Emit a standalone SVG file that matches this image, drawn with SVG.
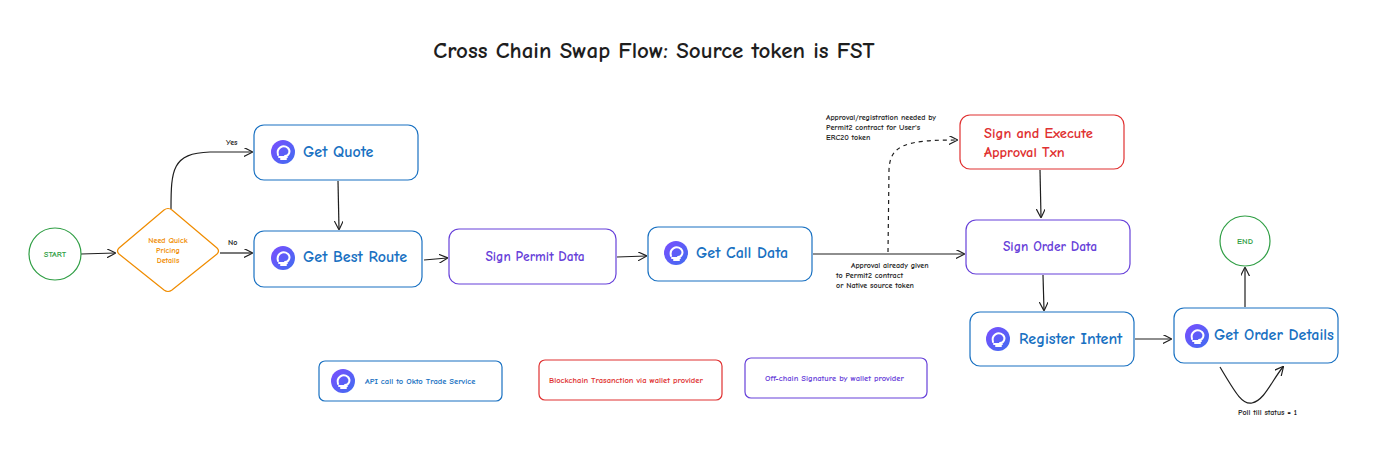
<svg xmlns="http://www.w3.org/2000/svg" width="1374" height="449" viewBox="0 0 1374 449">
<style>
text{font-family:"Comic Neue","Liberation Sans",sans-serif;font-weight:bold}
.b{fill:#fff;stroke:#1971c2;stroke-width:1.2}
.r{fill:#fff;stroke:#e03131;stroke-width:1.2}
.v{fill:#fff;stroke:#6741d9;stroke-width:1.2}
.tb{fill:#1971c2;font-size:16px}
.tv{fill:#6741d9;font-size:13.5px}
.lab{fill:#1e1e1e;font-size:8px}
.c{fill:none;stroke:#1e1e1e;stroke-width:1.2;marker-end:url(#a)}
</style>
<defs>
<marker id="a" viewBox="0 0 10 10" refX="9" refY="5" markerWidth="9" markerHeight="9" orient="auto" markerUnits="userSpaceOnUse"><path d="M0,0L10,5L0,10" fill="none" stroke="#1e1e1e" stroke-width="1.3"/></marker>
<linearGradient id="g" x1="0" y1="0" x2="1" y2="1"><stop offset="0" stop-color="#7b4dff"/><stop offset="1" stop-color="#3f6df0"/></linearGradient>
<symbol id="ic" viewBox="-12 -12 24 24"><circle r="12" fill="url(#g)"/><path d="M-5,3 C-7,-4 0,-8 5,-4 C8,-1 6,4 2,4 M-4,5 L4,5 M-2,7 L3,7" fill="none" stroke="#fff" stroke-width="2" stroke-linecap="round"/></symbol>
</defs>
<rect width="1374" height="449" fill="#fff"/>
<text x="654" y="58" text-anchor="middle" font-size="23" fill="#1e1e1e">Cross Chain Swap Flow: Source token is FST</text>
<g id="connectors">
<path class="c" d="M81,254 L115,253"/>
<path class="c" d="M171,209 C171,170 172,153 210,152 L252,152"/>
<text class="lab" x="226" y="145">Yes</text>
<path class="c" d="M220,253 L252,253"/>
<text class="lab" x="228" y="245">No</text>
<path class="c" d="M338,181 L339,229"/>
<path class="c" d="M424,260 L447,258"/>
<path class="c" d="M617,257 L646,256"/>
<path class="c" d="M813,254 L964,254"/>
<text class="lab"><tspan x="851" y="268">Approval already given</tspan><tspan x="836" y="278">to Permit2 contract</tspan><tspan x="836" y="288">or Native source token</tspan></text>
<path class="c" d="M888,252 L889,170 C890,145 905,140 957,140" stroke-dasharray="4 4"/>
<text class="lab"><tspan x="826" y="120">Approval/registration needed by</tspan><tspan x="826" y="130">Permit2 contract for User's</tspan><tspan x="826" y="140">ERC20 token</tspan></text>
<path class="c" d="M1040,170 L1041,217"/>
<path class="c" d="M1043,275 L1044,310"/>
<path class="c" d="M1135,339 L1171,339"/>
<path class="c" d="M1245,307 L1245,268"/>
<path class="c" d="M1220,367 C1235,392 1242,405 1252,403 C1265,400 1272,380 1283,367"/>
<text class="lab" x="1238" y="415">Poll till status = 1</text>
</g>
<g id="start"><circle cx="55" cy="254" r="26" fill="#fff" stroke="#2f9e44" stroke-width="1.2"/><text x="55" y="257" text-anchor="middle" font-size="8.5" fill="#2f9e44">START</text></g>
<g id="decision"><path d="M164,210 Q168,207 172,210 L217,248 Q220,251 217,254 L172,290 Q168,293 164,290 L119,254 Q116,251 119,248 Z" fill="#fff" stroke="#f08c00" stroke-width="1.2"/><text font-size="8" fill="#f08c00" text-anchor="middle"><tspan x="168" y="243">Need Quick</tspan><tspan x="168" y="253">Pricing</tspan><tspan x="168" y="263">Details</tspan></text></g>
<g id="getquote"><rect class="b" x="254" y="125" width="164" height="55" rx="10"/><use href="#ic" x="271" y="140" width="24" height="24"/><text class="tb" x="303" y="157">Get Quote</text></g>
<g id="getbestroute"><rect class="b" x="254" y="231" width="168" height="56" rx="10"/><use href="#ic" x="271" y="246" width="24" height="24"/><text class="tb" x="303" y="262">Get Best Route</text></g>
<g id="signpermit"><rect class="v" x="449" y="229" width="167" height="55" rx="10"/><text class="tv" x="535" y="261" text-anchor="middle">Sign Permit Data</text></g>
<g id="getcalldata"><rect class="b" x="648" y="227" width="164" height="54" rx="10"/><use href="#ic" x="664" y="241" width="24" height="24"/><text class="tb" x="696" y="258">Get Call Data</text></g>
<g id="approval"><rect class="r" x="960" y="115" width="164" height="54" rx="10"/><text fill="#e03131" font-size="14.5"><tspan x="984" y="138">Sign and Execute</tspan><tspan x="984" y="157">Approval Txn</tspan></text></g>
<g id="signorder"><rect class="v" x="966" y="220" width="164" height="54" rx="10"/><text class="tv" x="1050" y="251" text-anchor="middle">Sign Order Data</text></g>
<g id="register"><rect class="b" x="970" y="312" width="164" height="54" rx="10"/><use href="#ic" x="986" y="327" width="24" height="24"/><text class="tb" x="1019" y="344">Register Intent</text></g>
<g id="getorder"><rect class="b" x="1174" y="308" width="164" height="55" rx="10"/><use href="#ic" x="1185" y="324" width="24" height="24"/><text class="tb" x="1214" y="340">Get Order Details</text></g>
<g id="end"><circle cx="1245" cy="241" r="25" fill="#fff" stroke="#2f9e44" stroke-width="1.2"/><text x="1245" y="244" text-anchor="middle" font-size="8.5" fill="#2f9e44">END</text></g>
<g id="legend-api"><rect class="b" x="319" y="361" width="183" height="40" rx="6"/><use href="#ic" x="331" y="369" width="24" height="24"/><text x="365" y="384" font-size="8.5" fill="#1971c2">API call to Okto Trade Service</text></g>
<g id="legend-chain"><rect class="r" x="539" y="360" width="183" height="40" rx="6"/><text x="549" y="383" font-size="8.5" fill="#e03131">Blockchain Trasanction via wallet provider</text></g>
<g id="legend-sig"><rect class="v" x="745" y="358" width="182" height="40" rx="6"/><text x="765" y="381" font-size="8.5" fill="#6741d9">Off-chain Signature by wallet provider</text></g>
</svg>
